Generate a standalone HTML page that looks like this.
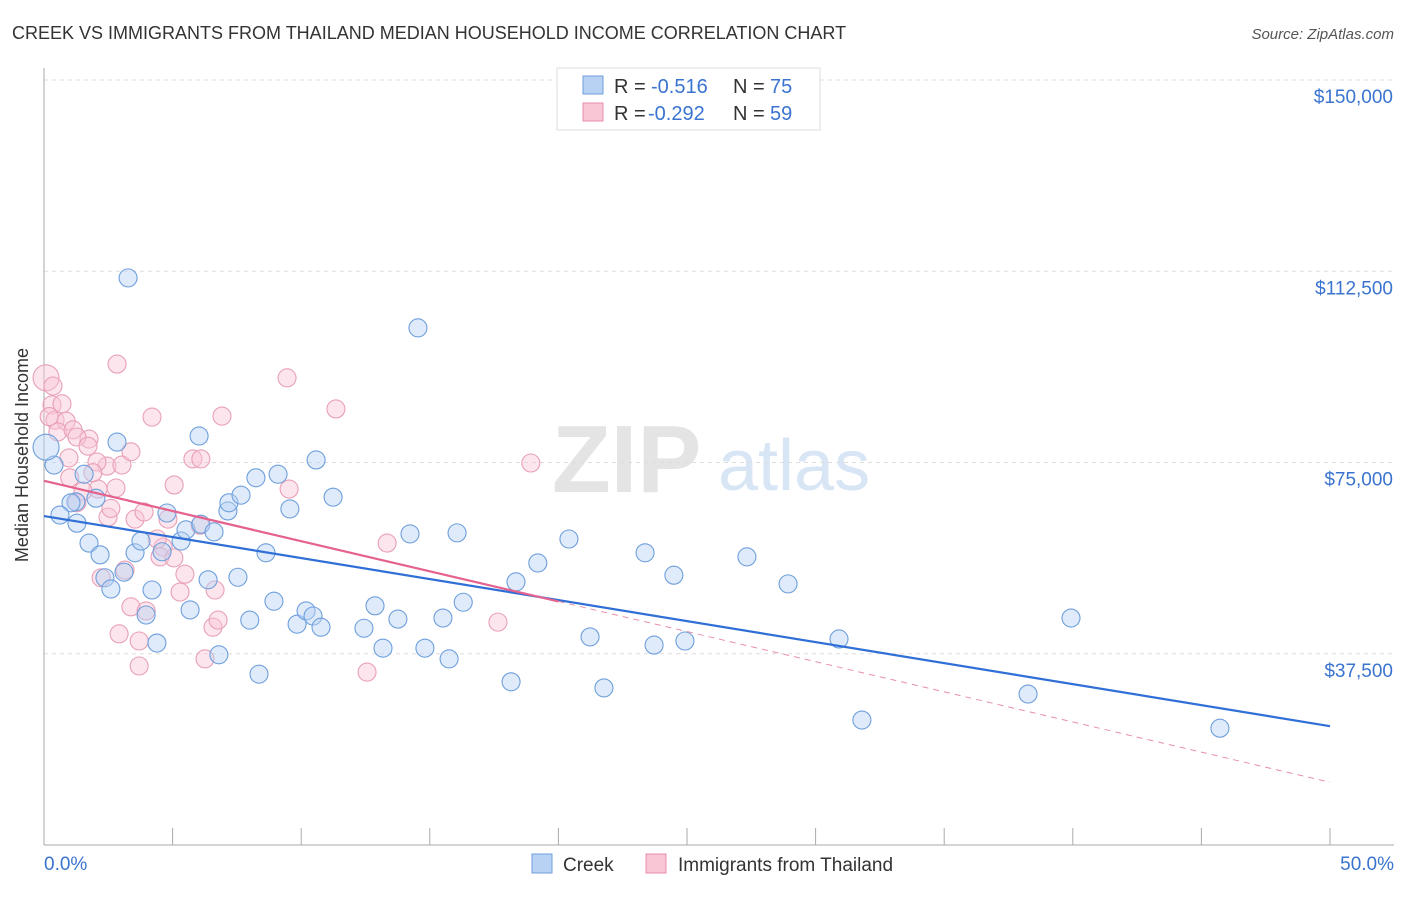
<!DOCTYPE html>
<html><head><meta charset="utf-8">
<style>
body{margin:0;background:#fff;font-family:"Liberation Sans",sans-serif;}
svg text{font-family:"Liberation Sans",sans-serif;}
</style></head>
<body>
<svg id="chart" width="1406" height="892" xmlns="http://www.w3.org/2000/svg">
<text x="12" y="39" font-size="18" fill="#333">CREEK VS IMMIGRANTS FROM THAILAND MEDIAN HOUSEHOLD INCOME CORRELATION CHART</text>
<text x="1394" y="39" font-size="15" fill="#555" font-style="italic" text-anchor="end">Source: ZipAtlas.com</text>
<g>
<text x="552" y="492" font-size="96" fill="#e4e4e4" font-family="Liberation Serif" font-weight="bold">ZIP</text>
<text x="718" y="490" font-size="72" fill="#d7e5f5">atlas</text>
</g>
<g id="grid"></g>
<g id="axes"></g>
<g id="pts-pink"></g>
<g id="pts-blue"></g>
<g id="lines"></g>
<text x="28" y="455" font-size="18" fill="#333" text-anchor="middle" transform="rotate(-90 28 455)">Median Household Income</text>
<g>
<rect x="557" y="68" width="263" height="62" fill="#fff" stroke="#ddd"/>
<rect x="583" y="76" width="20" height="18" fill="#b8d2f3" stroke="#6e9fdc"/>
<rect x="583" y="103" width="20" height="18" fill="#f9c6d6" stroke="#e88faa"/>
<text x="614" y="93" font-size="20" fill="#333">R =</text>
<text x="651" y="93" font-size="20" fill="#3a74d0">-0.516</text>
<text x="733" y="93" font-size="20" fill="#333">N =</text>
<text x="770" y="93" font-size="20" fill="#3a74d0">75</text>
<text x="614" y="120" font-size="20" fill="#333">R =</text>
<text x="648" y="120" font-size="20" fill="#3a74d0">-0.292</text>
<text x="733" y="120" font-size="20" fill="#333">N =</text>
<text x="770" y="120" font-size="20" fill="#3a74d0">59</text>
</g>
<g>
<rect x="532" y="854" width="20" height="19" fill="#b8d2f3" stroke="#6e9fdc"/>
<text x="563" y="871" font-size="19" fill="#333">Creek</text>
<rect x="646" y="854" width="20" height="19" fill="#f9c6d6" stroke="#e88faa"/>
<text x="678" y="871" font-size="19" fill="#333">Immigrants from Thailand</text>
</g>
</svg>
<script>
const yTicks=[37500,75000,112500,150000];
const yTickLabels=["$37,500","$75,000","$112,500","$150,000"];
const xTickLabels=["0.0%","50.0%"];
const creekX=[3.27,14.54,0.39,1.24,1.05,0.62,1.28,2.02,2.84,1.56,1.75,2.18,2.37,2.6,3.54,3.77,3.11,4.2,3.97,4.39,4.59,4.78,5.33,5.52,6.03,6.1,6.61,6.38,5.68,6.8,7.15,7.19,7.66,7.54,8.0,8.24,9.1,8.63,8.94,9.56,8.36,9.84,10.19,10.46,10.77,10.58,11.24,12.44,12.87,13.18,13.76,14.23,14.81,15.51,15.75,16.06,16.3,18.16,18.35,19.2,20.41,21.23,21.77,23.37,23.72,24.49,24.92,27.33,28.93,30.91,31.8,38.26,39.93,45.72,0.08];
const creekY=[111.2,101.4,74.5,67.3,67.1,64.7,63.1,68.0,79.0,72.7,59.2,56.9,52.4,50.2,57.3,59.6,53.5,50.0,45.1,39.6,57.5,65.1,59.6,61.8,80.2,62.9,61.4,52.0,46.1,37.3,65.5,67.1,68.6,52.5,44.1,72.0,72.7,57.3,47.8,65.9,33.5,43.3,45.9,44.9,42.7,75.5,68.2,42.5,46.9,38.6,44.3,61.0,38.6,44.5,36.5,61.2,47.6,32.0,51.6,55.3,60.0,40.8,30.8,57.3,39.2,52.9,40.0,56.5,51.2,40.4,24.5,29.6,44.5,22.9,78.0];
const thaiX=[0.08,0.35,0.31,0.7,0.43,0.86,0.54,1.13,1.75,1.28,0.97,1.71,2.45,3.03,2.06,3.38,2.8,2.1,1.52,1.28,2.49,3.54,3.89,2.84,4.2,6.92,9.45,11.35,18.93,5.06,5.79,6.1,6.07,4.82,4.63,4.51,5.05,5.48,5.29,6.65,9.53,13.34,17.65,12.56,3.15,2.22,3.38,3.97,2.92,3.7,3.7,6.26,6.57,6.77,1.0,2.6,4.4,0.2,1.9];
const thaiY=[91.6,90.0,86.3,86.5,83.3,83.1,81.0,81.4,79.6,80.0,75.9,78.2,74.3,74.5,75.1,77.1,70.0,69.8,69.4,67.1,64.3,63.9,65.3,94.3,83.9,84.1,91.6,85.5,74.9,70.6,75.7,75.7,62.7,63.9,58.4,56.5,56.3,53.1,49.6,50.0,69.8,59.2,43.7,33.9,53.9,52.4,46.7,45.9,41.4,40.0,35.1,36.5,42.7,44.1,72.0,66.0,60.0,84.0,73.0];
const creekBig=[74], thaiBig=[0];
const creekTrend=[64.5,23.3], thaiTrend=[71.4,12.3];
const NS="http://www.w3.org/2000/svg";
const X0=44,X1=1330,Y0=845,YTOP=80;
const xs=p=>X0+(p/50)*(X1-X0);
const ys=v=>Y0-(v/150000)*(Y0-YTOP);
function mk(t,a,parent){const e=document.createElementNS(NS,t);for(const k in a)e.setAttribute(k,a[k]);parent.appendChild(e);return e;}
const grid=document.getElementById('grid'),axes=document.getElementById('axes');
yTicks.forEach((v,i)=>{
 const l=mk('line',{x1:X0,x2:1394,y1:ys(v),y2:ys(v),stroke:'#ddd','stroke-dasharray':'4,4'},grid);
 
 
 const t=mk('text',{x:1393,y:ys(v)+23,'font-size':19,fill:'#3a74d0','text-anchor':'end'},axes);
 t.textContent=yTickLabels[i];
 
 
});
mk('line',{x1:X0,x2:X0,y1:68,y2:845,stroke:'#aaa'},axes);
mk('line',{x1:X0,x2:1394,y1:845,y2:845,stroke:'#aaa'},axes);
for(let i=0;i<=10;i++){const x=xs(i*5);const tk=mk('line',{x1:x,x2:x,y1:828,y2:845,stroke:'#aaa'},axes);
 
 }
[[0,'start',44],[50,'end',1394]].forEach((d,i)=>{const t=mk('text',{x:d[2],y:870,'font-size':19,fill:'#3a74d0','text-anchor':d[1]},axes);t.textContent=xTickLabels[i];
 
 });
function pts(X,Y,big,g,fill,stroke,name){X.forEach((x,i)=>{const r=big.includes(i)?13:9;
 const c=mk('circle',{cx:xs(x),cy:ys(Y[i]*1000),r:r,fill:fill,'fill-opacity':0.45,stroke:stroke,'stroke-width':1.1},g);
 
 });}
pts(thaiX,thaiY,thaiBig,document.getElementById('pts-pink'),'#f9c6d6','#e8a0b6','thailand-point');
pts(creekX,creekY,creekBig,document.getElementById('pts-blue'),'#b8d2f3','#6e9fdc','creek-point');
const lg=document.getElementById('lines');
const bl=mk('line',{x1:xs(0),y1:ys(creekTrend[0]*1000),x2:xs(50),y2:ys(creekTrend[1]*1000),stroke:'#2f6fd6','stroke-width':2.2},lg);


const tv=p=>thaiTrend[0]+(thaiTrend[1]-thaiTrend[0])*p/50;
const pl=mk('line',{x1:xs(0),y1:ys(tv(0)*1000),x2:xs(20),y2:ys(tv(20)*1000),stroke:'#e5628e','stroke-width':2.2},lg);


const pd=mk('line',{x1:xs(20),y1:ys(tv(20)*1000),x2:xs(50),y2:ys(tv(50)*1000),stroke:'#e88faa','stroke-width':1,'stroke-dasharray':'6,5'},lg);


</script>
</body></html>
